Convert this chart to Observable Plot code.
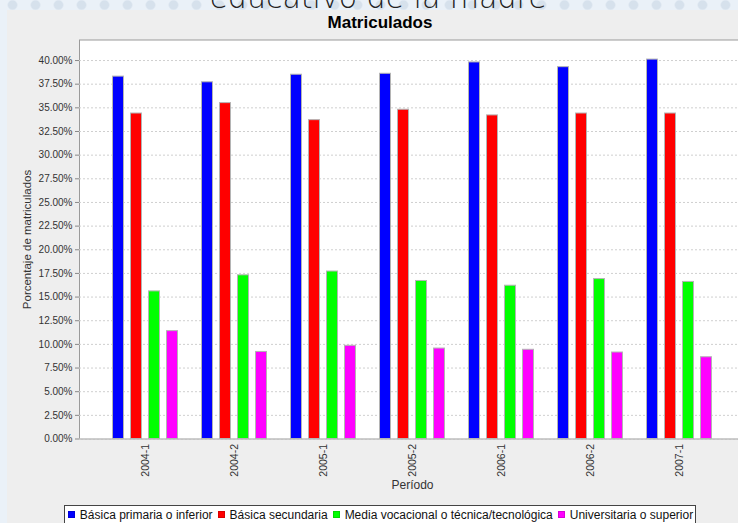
<!DOCTYPE html>
<html>
<head>
<meta charset="utf-8">
<script src="https://cdn.jsdelivr.net/npm/d3@7"></script>
<script src="https://cdn.jsdelivr.net/npm/@observablehq/plot@0.6"></script>
<style>
html, body { margin: 0; padding: 0; width: 738px; height: 523px; overflow: hidden; }
body {
  position: relative;
  background-color: #eaf1f8;
  background-image: radial-gradient(circle, #d6e1ec 0, #d6e1ec 4px, transparent 5.5px);
  background-size: 23px 22px;
  background-position: 1px -6px;
  font-family: "Liberation Sans", Arial, sans-serif;
}
#heading {
  position: absolute; left: 0; top: -17px; width: 756px; height: 27px; overflow: hidden;
  text-align: center; font-family: "DejaVu Sans", sans-serif; font-weight: 200;
  font-size: 30px; line-height: 30px; color: #222; white-space: nowrap;
}
#panel {
  position: absolute; left: 7px; top: 10px; width: 746px; height: 540px;
  background: #eeeeee;
}
#title {
  height: 24px; line-height: 26px; text-align: center;
  font-weight: bold; font-size: 17px; color: #000;
}
#chart { position: relative; width: 746px; height: 462px; }
#chart svg { display: block; position: absolute; left: 0; top: 0; }
#legendwrap { position: absolute; left: 0; top: 494px; width: 746px; text-align: center; }
#legend {
  display: inline-flex; align-items: center; background: #fff;
  border: 1px solid #444; padding: 1px 2px 1px 3px; font-size: 12px; line-height: 16px; color: #111;
}
#legend .item { display: inline-flex; align-items: center; margin-right: 5px; }
#legend .item:last-child { margin-right: 0; }
#legend .sw { width: 7px; height: 7px; margin-right: 5px; box-sizing: border-box; border: 1px solid rgba(0,0,0,0.15); }
</style>
</head>
<body>
<div id="heading">educativo de la madre</div>
<div id="panel">
  <div id="title">Matriculados</div>
  <div id="chart"></div>
  <div id="legendwrap"><div id="legend"></div></div>
</div>
<script>
const periods = ["2004-1", "2004-2", "2005-1", "2005-2", "2006-1", "2006-2", "2007-1"];
const series = [
  "Básica primaria o inferior",
  "Básica secundaria",
  "Media vocacional o técnica/tecnológica",
  "Universitaria o superior"
];
const colors = ["#0000ff", "#ff0000", "#00ff00", "#ff00ff"];
const primaria      = [38.3, 37.7, 38.5, 38.6, 39.8, 39.3, 40.1];
const secundaria    = [34.4, 35.5, 33.7, 34.8, 34.2, 34.4, 34.4];
const media         = [15.6, 17.3, 17.7, 16.7, 16.2, 16.9, 16.6];
const universitaria = [11.4, 9.2, 9.85, 9.56, 9.43, 9.14, 8.64];
const yTicks = [0, 2.5, 5, 7.5, 10, 12.5, 15, 17.5, 20, 22.5, 25, 27.5, 30, 32.5, 35, 37.5, 40];
const yMax = 42.17;
const yLabel = "Porcentaje de matriculados";
const xLabel = "Período";

const valuesBySeries = [primaria, secundaria, media, universitaria];
const data = periods.flatMap((p, i) =>
  series.map((s, j) => ({period: p, series: s, value: valuesBySeries[j][i]}))
);

const common = {
  width: 746,
  height: 462,
  marginLeft: 72,
  marginRight: 8,
  marginTop: 5.5,
  marginBottom: 57.5,
  style: {background: "transparent", fontFamily: "'Liberation Sans', Arial, sans-serif", fontSize: "10px", color: "#333"},
  y: {domain: [0, yMax], axis: null}
};

// Background layer: plot area, grid and value axis
const back = Plot.plot({
  ...common,
  marks: [
    Plot.frame({fill: "white", stroke: "#9a9a9a"}),
    Plot.ruleY(yTicks, {stroke: "#cfcfcf", strokeDasharray: "2,2"}),
    Plot.axisY(yTicks, {tickFormat: d => d.toFixed(2) + "%", tickSize: 4, tickPadding: 3, stroke: "#888", fill: "#333", fontSize: 10, label: null}),
    Plot.axisY([], {tickSize: 0, label: yLabel, labelAnchor: "center", labelArrow: "none", labelOffset: 57, fontSize: 11.5, fill: "#333"})
  ]
});

// Foreground layer: grouped bars and period axis
const front = Plot.plot({
  ...common,
  fx: {domain: periods, paddingInner: 0, paddingOuter: 0.2416, round: false, label: null},
  x: {domain: series, paddingInner: 0.389, paddingOuter: 0.667, round: false, axis: null},
  color: {domain: series, range: colors},
  marks: [
    Plot.barY(data, {fx: "period", x: "series", y: "value", fill: "series", stroke: "#b4b4b4", strokeWidth: 1}),
    Plot.axisFx({anchor: "bottom", tickRotate: -90, tickSize: 0, tickPadding: 5, fontSize: 10.5, fill: "#333", label: null}),
    Plot.axisFx([], {anchor: "bottom", tickSize: 0, label: xLabel, labelAnchor: "center", labelArrow: "none", labelOffset: 50, fontSize: 12, fill: "#333"})
  ]
});

const holder = document.getElementById("chart");
holder.appendChild(back);
holder.appendChild(front);

const legend = document.getElementById("legend");
series.forEach((s, j) => {
  const item = document.createElement("span");
  item.className = "item";
  const sw = document.createElement("span");
  sw.className = "sw";
  sw.style.background = colors[j];
  const t = document.createElement("span");
  t.textContent = s;
  item.appendChild(sw);
  item.appendChild(t);
  legend.appendChild(item);
});
</script>
</body>
</html>
